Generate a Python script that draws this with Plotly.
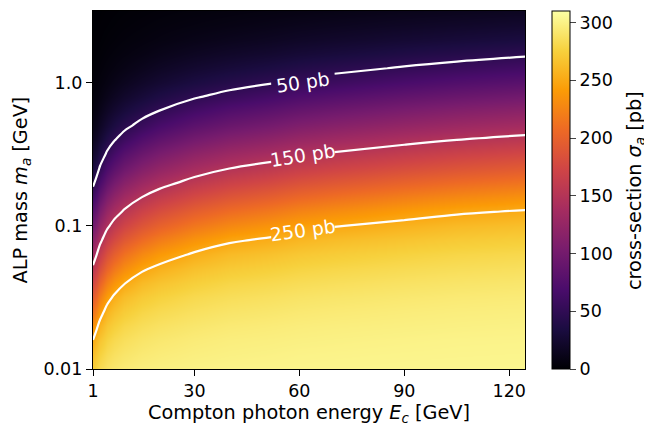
import numpy as np
import plotly.graph_objects as go

# Compton photon energy columns [GeV]
energy = [1, 2, 3, 5, 7, 10, 15, 20, 30, 40, 52, 60, 70, 90, 105, 125]
# ALP mass rows as log10(m_a / GeV), from 0.01 to ~3.16 GeV
log_mass = [-2.0, -1.9, -1.8, -1.7, -1.6, -1.5, -1.4, -1.3, -1.2, -1.1, -1.0, -0.9, -0.8,
            -0.7, -0.6, -0.5, -0.4, -0.3, -0.2, -0.1, 0.0, 0.1, 0.2, 0.3, 0.4, 0.5]

# cross-section [pb], one list per energy column (bottom -> top)
sigma_E1 = [273, 263.5, 250.5, 232.8, 213, 193, 173.8, 154.8, 135.8, 116.8, 97.8, 79.5, 61.5, 45.8, 33, 23.3, 15.8, 10.3, 6.8, 4.5, 2.9, 1.8, 1.1, 0.7, 0.45, 0.25]
sigma_E2 = [278.6, 270.5, 260.3, 246, 227, 207, 187, 168, 149, 130, 111, 92, 74, 56.2, 41.4, 29.5, 20.6, 13.8, 8.9, 5.9, 3.9, 2.45, 1.5, 1, 0.6, 0.4]
sigma_E3 = [283.2, 276.6, 268, 256.8, 241.3, 222, 202, 182.3, 163.3, 144.3, 125.3, 106.3, 87.6, 69.6, 52.5, 38.4, 27.3, 18.9, 12.5, 8.1, 5.4, 3.55, 2.2, 1.35, 0.88, 0.54]
sigma_E5 = [288.7, 283.4, 276.9, 268.4, 257.4, 242.1, 222.8, 202.8, 183.1, 164.1, 145.1, 126.1, 107.1, 88.3, 70.3, 53.1, 38.9, 27.7, 19.2, 12.7, 8.2, 5.5, 3.6, 2.24, 1.37, 0.9]
sigma_E7 = [291.7, 287.2, 281.6, 274.4, 265.3, 253, 236.2, 216.6, 196.6, 177.2, 158.2, 139.2, 120.2, 101.2, 82.7, 64.7, 48.5, 35.2, 24.9, 17, 11.2, 7.3, 4.9, 3.1, 1.9, 1.2]
sigma_E10 = [294.5, 290.6, 285.8, 280, 272.3, 262.6, 249.2, 231, 211.2, 191.2, 172, 153, 134, 115, 96, 77.9, 59.9, 44.4, 31.9, 22.4, 15.1, 9.8, 6.5, 4.3, 2.7, 1.7]
sigma_E15 = [297, 294, 290, 285, 279, 271, 261, 247, 228, 208, 188, 169, 150, 131, 112, 93, 75, 57, 42, 30, 21, 14, 9, 6, 4, 2.5]
sigma_E20 = [298.2, 295.7, 292.3, 287.9, 282.5, 275.6, 266.8, 255.1, 239, 219.6, 199.6, 180, 161, 142, 123, 104, 85.4, 67.4, 50.7, 37, 26.2, 18.1, 11.9, 7.7, 5.2, 3.4]
sigma_E30 = [299.8, 297.8, 295.2, 291.6, 287, 281.5, 274.3, 265.1, 252.7, 235.8, 216.2, 196.2, 176.8, 157.8, 138.8, 119.8, 100.8, 82.4, 64.4, 48.2, 34.9, 24.7, 16.9, 11, 7.2, 4.8]
sigma_E40 = [301, 299, 297, 294, 290, 285, 279, 271, 261, 247, 228, 208, 188, 169, 150, 131, 112, 93, 75, 57, 42, 30, 21, 14, 9, 6]
sigma_E52 = [301.5, 299.9, 297.9, 295.4, 291.8, 287.3, 281.8, 274.7, 265.6, 253.4, 236.7, 217.2, 197.2, 177.7, 158.7, 139.7, 120.7, 101.7, 83.3, 65.3, 48.9, 35.5, 25.1, 17.2, 11.3, 7.4]
sigma_E60 = [301.8, 300.7, 298.7, 296.5, 293.3, 289.2, 284, 277.6, 269.3, 258.6, 243.8, 224.6, 204.6, 184.8, 165.8, 146.8, 127.8, 108.8, 89.9, 71.9, 54.5, 40, 28.5, 19.8, 13.2, 8.5]
sigma_E70 = [302.1, 301.1, 299.3, 297.3, 294.4, 290.6, 285.7, 279.8, 272.1, 262.4, 249, 230.7, 210.8, 190.8, 171.7, 152.7, 133.7, 114.7, 95.7, 77.5, 59.5, 44.1, 31.7, 22.3, 15, 9.7]
sigma_E90 = [302.7, 301.7, 300.3, 298.3, 296, 292.6, 288.3, 283, 276.3, 267.6, 256.2, 240.5, 221.2, 201.2, 181.5, 162.5, 143.5, 124.5, 105.5, 86.9, 68.9, 51.9, 37.9, 26.9, 18.6, 12.3]
sigma_E105 = [303, 302, 301, 299, 297, 294, 290, 285, 279, 271, 261, 247, 228, 208, 188, 169, 150, 131, 112, 93, 75, 57, 42, 30, 21, 14]
sigma_E125 = [303.2, 302.3, 301.3, 299.7, 297.7, 295, 291.4, 286.7, 281, 273.7, 264.4, 251.8, 234.5, 214.8, 194.8, 175.5, 156.5, 137.5, 118.5, 99.5, 81.1, 63.1, 47.1, 34.1, 24.1, 16.4]

columns = [sigma_E1, sigma_E2, sigma_E3, sigma_E5, sigma_E7, sigma_E10, sigma_E15, sigma_E20,
           sigma_E30, sigma_E40, sigma_E52, sigma_E60, sigma_E70, sigma_E90, sigma_E105, sigma_E125]
z = np.array(columns).T  # rows = mass, cols = energy

contour_levels = [50, 150, 250]
contour_labels = ["50 pb", "150 pb", "250 pb"]
x_ticks = [1, 30, 60, 90, 120]
y_tickvals = [-2, -1, 0]
y_ticktext = ["0.01", "0.1", "1.0"]
cbar_ticks = [0, 50, 100, 150, 200, 250, 300]

# inline contour-label placement (label centre in data units, text angle in degrees)
label_x = [61, 61, 61]
label_y = [0.004, -0.508, -1.033]
label_angle = [-8, -9, -8]

FONT = "DejaVu Sans"
FS_TICK = 17.5
FS_LABEL = 19.3
FS_CLABEL = 18.8

fig = go.Figure()
fig.add_trace(go.Heatmap(
    x=energy, y=log_mass, z=z, zsmooth="best",
    colorscale="Inferno", zmin=0, zmax=310,
    colorbar=dict(
        x=1.0625, xanchor="left", xpad=0, ypad=0, y=0.5, yanchor="middle",
        len=1, lenmode="fraction", thickness=18, thicknessmode="pixels",
        outlinewidth=1, outlinecolor="black",
        tickvals=cbar_ticks, ticks="outside", ticklen=6, tickwidth=1.2,
        tickfont=dict(family=FONT, size=FS_TICK, color="black"),
    ),
    hoverinfo="skip",
))

# contour lines, split into two pieces so the inline labels sit in the gap
n_left = energy.index(52) + 1
n_right = energy.index(70)
for sl in (slice(0, n_left), slice(n_right, None)):
    fig.add_trace(go.Contour(
        x=energy[sl], y=log_mass, z=z[:, sl],
        autocontour=False,
        contours=dict(start=contour_levels[0], end=contour_levels[-1], size=100,
                      coloring="lines", showlabels=False),
        colorscale=[[0, "white"], [1, "white"]],
        line=dict(width=2.2, smoothing=1),
        showscale=False,
        hoverinfo="skip",
    ))

for txt, lx, ly, ang in zip(contour_labels, label_x, label_y, label_angle):
    fig.add_annotation(x=lx, y=ly, xref="x", yref="y", text=txt, showarrow=False,
                       textangle=ang, font=dict(family=FONT, size=FS_CLABEL, color="white"))

# colour-bar title
fig.add_annotation(x=1.2546, y=0.5, xref="paper", yref="paper", xanchor="center", yanchor="middle",
                   text="cross-section <i>σ</i><sub><i>a</i></sub> [pb]", showarrow=False,
                   textangle=-90, font=dict(family=FONT, size=FS_LABEL, color="black"))

axis_common = dict(showgrid=False, zeroline=False, ticks="outside", ticklen=6, tickwidth=1.2,
                   tickcolor="black", showline=True, linecolor="black", linewidth=1.2, mirror=True,
                   tickfont=dict(family=FONT, size=FS_TICK, color="black"))

fig.update_layout(
    width=644, height=418,
    margin=dict(l=85, r=127, t=3, b=57),
    paper_bgcolor="white", plot_bgcolor="white",
    font=dict(family=FONT, size=FS_TICK, color="black"),
    xaxis=dict(range=[1, 124.5], tickvals=x_ticks,
               title=dict(text="Compton photon energy <i>E</i><sub><i>c</i></sub> [GeV]",
                          font=dict(family=FONT, size=FS_LABEL), standoff=6),
               **axis_common),
    yaxis=dict(range=[-2, 0.5], tickvals=y_tickvals, ticktext=y_ticktext,
               title=dict(text="ALP mass <i>m</i><sub><i>a</i></sub> [GeV]",
                          font=dict(family=FONT, size=FS_LABEL), standoff=10),
               **axis_common),
    showlegend=False,
)

fig.write_html("out.html")
